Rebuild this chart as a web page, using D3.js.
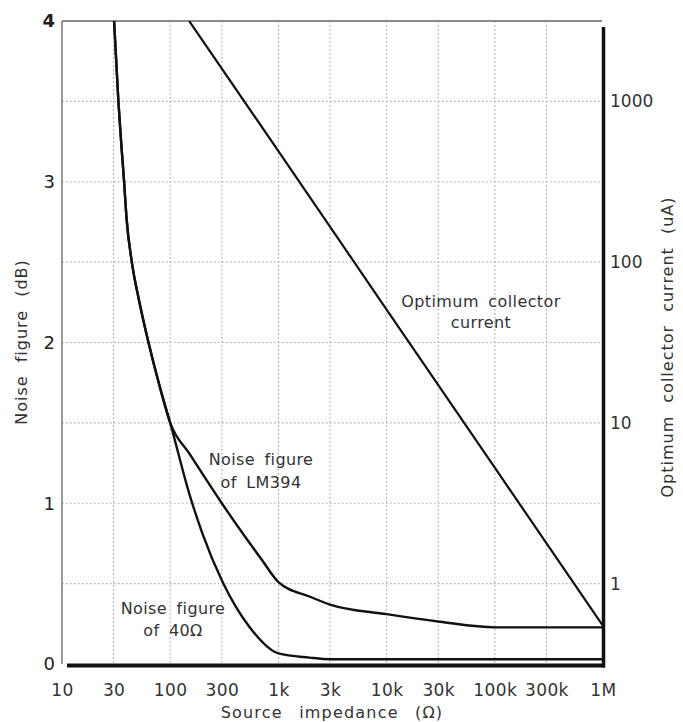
<!DOCTYPE html>
<html>
<head>
<meta charset="utf-8">
<script src="https://cdn.jsdelivr.net/npm/d3@7"></script>
<style>
  html, body { margin: 0; padding: 0; background: #fff; }
  svg { display: block; font-family: "DejaVu Sans", sans-serif; }
</style>
</head>
<body>
<svg id="chart" width="683" height="722"></svg>
<script>
// ---------- data ----------
const xTickValues = [10, 30, 100, 300, 1e3, 3e3, 1e4, 3e4, 1e5, 3e5, 1e6];
const xTickLabels = ["10", "30", "100", "300", "1k", "3k", "10k", "30k", "100k", "300k", "1M"];
const nfTickValues = [0, 1, 2, 3, 4];
const nfGridValues = [0.5, 1, 1.5, 2, 2.5, 3, 3.5];
const currentTickValues = [1, 10, 100, 1000];

// Noise figure of LM394 (dB) vs source impedance (ohm)
const lm394R  = [30.3, 33.2, 35.7, 37.5, 39.4, 44.2, 51.6, 63, 79, 100, 150, 200, 300, 500, 700, 1000, 1936, 3000, 10000, 31000, 100000, 1000000];
const lm394NF = [4.0, 3.5, 3.19, 3.0, 2.78, 2.5, 2.26, 2.0, 1.74, 1.5, 1.31, 1.18, 1.0, 0.785, 0.65, 0.51, 0.42, 0.37, 0.31, 0.263, 0.228, 0.228];

// Noise figure of 40 ohm (dB) vs source impedance (ohm)
const r40R  = [30.3, 33.2, 35.7, 37.5, 39.4, 44.2, 51.6, 63, 79, 100, 150, 199, 305, 538, 1000, 1936, 3000, 1000000];
const r40NF = [4.0, 3.5, 3.19, 3.0, 2.78, 2.5, 2.26, 2.0, 1.74, 1.5, 1.06, 0.81, 0.51, 0.232, 0.066, 0.04, 0.03, 0.03];

// Optimum collector current (uA) vs source impedance (ohm)
const currentR  = [150, 1000, 10000, 100000, 1000000];
const currentUA = [3162, 490, 50.7, 5.26, 0.546];

// ---------- layout ----------
const L = 62, R = 603, T = 21, B = 664;
const svg = d3.select("#chart");

const x = d3.scaleLog().domain([10, 1e6]).range([L, R]);
const y = d3.scaleLinear().domain([0, 4]).range([B, T]);
const yR = d3.scaleLog().domain([Math.pow(10, -0.5), Math.pow(10, 3.5)]).range([B, T]);

const textColor = "#333";

// ---------- grid ----------
const grid = svg.append("g");
grid.selectAll("line.v").data(xTickValues.slice(1, -1)).join("line")
  .attr("x1", d => x(d)).attr("x2", d => x(d))
  .attr("y1", T).attr("y2", B)
  .attr("stroke", "#aaa").attr("stroke-width", 1.2)
  .attr("stroke-dasharray", "1.5,2.5");
grid.selectAll("line.h").data(nfGridValues).join("line")
  .attr("x1", L).attr("x2", R)
  .attr("y1", d => y(d)).attr("y2", d => y(d))
  .attr("stroke", "#aaa").attr("stroke-width", 1.2)
  .attr("stroke-dasharray", "1.5,2.5");

// ---------- frame ----------
svg.append("line").attr("x1", L).attr("x2", R - 1).attr("y1", T).attr("y2", T)
  .attr("stroke", "#666").attr("stroke-width", 1.5);
svg.append("line").attr("x1", L).attr("x2", L).attr("y1", T).attr("y2", B)
  .attr("stroke", "#777").attr("stroke-width", 1.5);

// ---------- curves ----------
const nfLine = d3.line().x(d => x(d[0])).y(d => y(d[1])).curve(d3.curveMonotoneX);
const curLine = d3.line().x(d => x(d[0])).y(d => yR(d[1]));

svg.append("path")
  .datum(r40R.map((r, i) => [r, r40NF[i]]))
  .attr("d", nfLine).attr("fill", "none").attr("stroke", "#111").attr("stroke-width", 2.4);
svg.append("path")
  .datum(lm394R.map((r, i) => [r, lm394NF[i]]))
  .attr("d", nfLine).attr("fill", "none").attr("stroke", "#111").attr("stroke-width", 2.4);
svg.append("path")
  .datum(currentR.map((r, i) => [r, currentUA[i]]))
  .attr("d", curLine).attr("fill", "none").attr("stroke", "#111").attr("stroke-width", 2.2);

// bottom and right thick axes
svg.append("line").attr("x1", L + 5).attr("x2", R + 2).attr("y1", B + 1.5).attr("y2", B + 1.5)
  .attr("stroke", "#111").attr("stroke-width", 4);
svg.append("line").attr("x1", R + 0.5).attr("x2", R + 0.5).attr("y1", T + 6).attr("y2", B + 3.5)
  .attr("stroke", "#111").attr("stroke-width", 3.5);

// ---------- axes (labels only) ----------
const xAxis = d3.axisBottom(x).tickValues(xTickValues)
  .tickFormat((d, i) => xTickLabels[i]).tickSize(0).tickPadding(0);
const gx = svg.append("g").attr("transform", `translate(0,${B + 20})`).call(xAxis);
gx.select(".domain").remove();
gx.selectAll("text").attr("font-size", 17).attr("fill", textColor)
  .attr("font-family", "DejaVu Sans").attr("letter-spacing", 0.4);

const yAxis = d3.axisLeft(y).tickValues(nfTickValues).tickFormat(d3.format("d")).tickSize(0).tickPadding(0);
const gy = svg.append("g").attr("transform", `translate(${L - 7},0)`).call(yAxis);
gy.select(".domain").remove();
gy.selectAll("text").attr("font-size", 18).attr("fill", "#222")
  .attr("font-weight", d => d === 4 ? 700 : 400)
  .attr("font-family", "DejaVu Sans");

const yAxisR = d3.axisRight(yR).tickValues(currentTickValues).tickFormat(d3.format("d")).tickSize(0).tickPadding(0);
const gyr = svg.append("g").attr("transform", `translate(${R + 7},0)`).call(yAxisR);
gyr.select(".domain").remove();
gyr.selectAll("text").attr("font-size", 17).attr("fill", textColor)
  .attr("font-family", "DejaVu Sans");

// ---------- titles ----------
svg.append("text")
  .attr("x", 332).attr("y", 718).attr("text-anchor", "middle")
  .attr("font-size", 16).attr("fill", textColor)
  .attr("letter-spacing", 1.2).attr("word-spacing", 10)
  .text("Source impedance (Ω)");

svg.append("text")
  .attr("transform", "translate(27,342) rotate(-90)")
  .attr("text-anchor", "middle")
  .attr("font-size", 16).attr("fill", textColor)
  .attr("letter-spacing", 1).attr("word-spacing", 7)
  .text("Noise figure (dB)");

svg.append("text")
  .attr("transform", "translate(673,347) rotate(-90)")
  .attr("text-anchor", "middle")
  .attr("font-size", 16).attr("fill", textColor)
  .attr("letter-spacing", 1).attr("word-spacing", 7)
  .text("Optimum collector current (uA)");

// ---------- annotations ----------
function note(cx, lines, ys) {
  lines.forEach((t, i) => {
    svg.append("text")
      .attr("x", cx).attr("y", ys[i]).attr("text-anchor", "middle")
      .attr("dominant-baseline", "central")
      .attr("font-size", 16).attr("fill", textColor)
      .attr("letter-spacing", 0.4).attr("word-spacing", 4)
      .text(t);
  });
}
note(481, ["Optimum collector", "current"], [301, 322]);
note(261, ["Noise figure", "of LM394"], [459, 482]);
note(173, ["Noise figure", "of 40Ω"], [608, 630]);
</script>
</body>
</html>
